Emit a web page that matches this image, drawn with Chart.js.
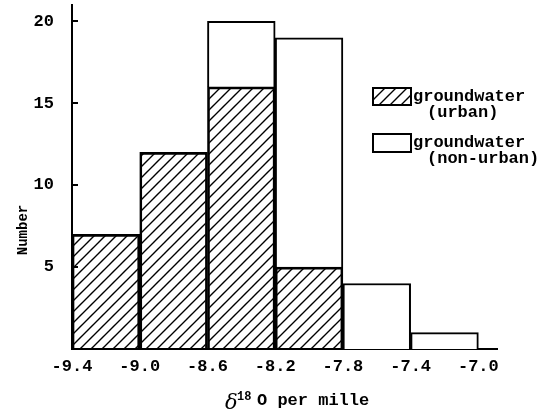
<!DOCTYPE html>
<html>
<head>
<meta charset="utf-8">
<script src="https://cdn.jsdelivr.net/npm/chart.js@4.4.1/dist/chart.umd.min.js"></script>
<style>
  html, body { margin: 0; padding: 0; background: #fff; }
  canvas { display: block; }
</style>
</head>
<body>
<canvas id="histo" width="542" height="414"></canvas>
<script>
// bin edges of delta 18O (per mille) and counts per bin
const binEdges = [-9.4, -9.0, -8.6, -8.2, -7.8, -7.4, -7.0];
const edgeLabels = ["-9.4", "-9.0", "-8.6", "-8.2", "-7.8", "-7.4", "-7.0"];
const urban = [7, 12, 16, 5, 0, 0];
const nonUrban = [0, 0, 4, 14, 4, 1];
const yTicks = [5, 10, 15, 20];

const typeFont = "'Liberation Mono', 'DejaVu Sans Mono', monospace";

let ctx = document.getElementById('histo').getContext('2d');

function makeHatch() {
    const c = document.createElement('canvas');
    c.width = 11;
    c.height = 11;
    const g = c.getContext('2d');
    g.strokeStyle = '#000';
    g.lineWidth = 1.4;
    g.beginPath();
    g.moveTo(-1, 12); g.lineTo(12, -1);
    g.moveTo(-2, 2); g.lineTo(2, -2);
    g.moveTo(9, 13); g.lineTo(13, 9);
    g.stroke();
    return ctx.createPattern(c, 'repeat');
}
const hatch = makeHatch();

// bars sit at the middle of each bin
const centers = urban.map((v, i) => (binEdges[i] + binEdges[i + 1]) / 2);

const extras = {
    id: 'extras',
    afterDraw: (chart) => {
        const c = chart.ctx;
        const y = chart.scales.y;
        const left = chart.chartArea.left;
        c.save();
        // inward tick marks on the y axis
        c.strokeStyle = '#000';
        c.lineWidth = 2;
        yTicks.forEach(t => {
            const py = Math.round(y.getPixelForValue(t));
            c.beginPath();
            c.moveTo(left, py);
            c.lineTo(left + 6, py);
            c.stroke();
        });

        // legend
        c.lineWidth = 2;
        c.fillStyle = hatch;
        c.fillRect(373, 88, 38, 17);
        c.strokeRect(373, 88, 38, 17);
        c.fillStyle = '#fff';
        c.fillRect(373, 134, 38, 18);
        c.strokeRect(373, 134, 38, 18);

        c.fillStyle = '#000';
        c.font = 'bold 17px ' + typeFont;
        c.textBaseline = 'alphabetic';
        c.textAlign = 'left';
        c.fillText('groundwater', 413, 101);
        c.fillText('(urban)', 427, 117);
        c.fillText('groundwater', 413, 147);
        c.fillText('(non-urban)', 427, 163);

        // y title
        c.save();
        c.translate(27, 230);
        c.rotate(-Math.PI / 2);
        c.textAlign = 'center';
        c.font = 'bold 14px ' + typeFont;
        c.fillText('Number', 0, 0);
        c.restore();

        // x title
        c.font = 'italic 21px "DejaVu Serif", serif';
        c.fillText('δ', 225, 409);
        c.font = 'bold 12px ' + typeFont;
        c.fillText('18', 237, 400);
        c.font = 'bold 17px ' + typeFont;
        c.fillText('O per mille', 257, 405);
        c.restore();
    }
};

let data = {
    type: 'bar',
    data: {
        datasets: [
            {
                label: 'groundwater (urban)',
                data: centers.map((x, i) => ({x: x, y: urban[i]})),
                backgroundColor: hatch,
                borderColor: '#000',
                borderWidth: 2,
                barPercentage: 1,
                categoryPercentage: 1,
            },
            {
                label: 'groundwater (non-urban)',
                data: centers.map((x, i) => ({x: x, y: nonUrban[i]})),
                backgroundColor: '#fff',
                borderColor: '#000',
                borderWidth: 2,
                barPercentage: 1,
                categoryPercentage: 1,
            }
        ]
    },
    options: {
        responsive: false,
        animation: false,
        devicePixelRatio: 1,
        layout: {
            padding: { left: 0, right: 45, top: 5, bottom: 0 }
        },
        scales: {
            x: {
                type: 'linear',
                stacked: true,
                min: -9.4,
                max: -6.89,
                offset: false,
                grid: { display: false, drawTicks: false },
                border: { display: true, color: '#000', width: 2 },
                afterBuildTicks: (scale) => {
                    scale.ticks = binEdges.map(v => ({value: v}));
                },
                afterFit: (scale) => {
                    scale.height = 65;
                    scale.paddingLeft = 0;
                    scale.paddingRight = 0;
                },
                ticks: {
                    padding: 8,
                    maxRotation: 0,
                    autoSkip: false,
                    color: '#000',
                    font: { size: 17, weight: 'bold', family: typeFont },
                    callback: function(value, index) {
                        return edgeLabels[index];
                    }
                }
            },
            y: {
                stacked: true,
                min: 0,
                max: 21,
                grid: { display: false, drawTicks: false },
                border: { display: true, color: '#000', width: 2 },
                afterBuildTicks: (scale) => {
                    scale.ticks = yTicks.map(v => ({value: v}));
                },
                afterFit: (scale) => {
                    scale.width = 72;
                    scale.paddingTop = 0;
                    scale.paddingBottom = 0;
                },
                ticks: {
                    padding: 18,
                    color: '#000',
                    font: { size: 17, weight: 'bold', family: typeFont }
                }
            }
        },
        plugins: {
            legend: { display: false },
            tooltip: { enabled: false }
        }
    },
    plugins: [extras]
};

const histo = new Chart(ctx, data);
</script>
</body>
</html>
